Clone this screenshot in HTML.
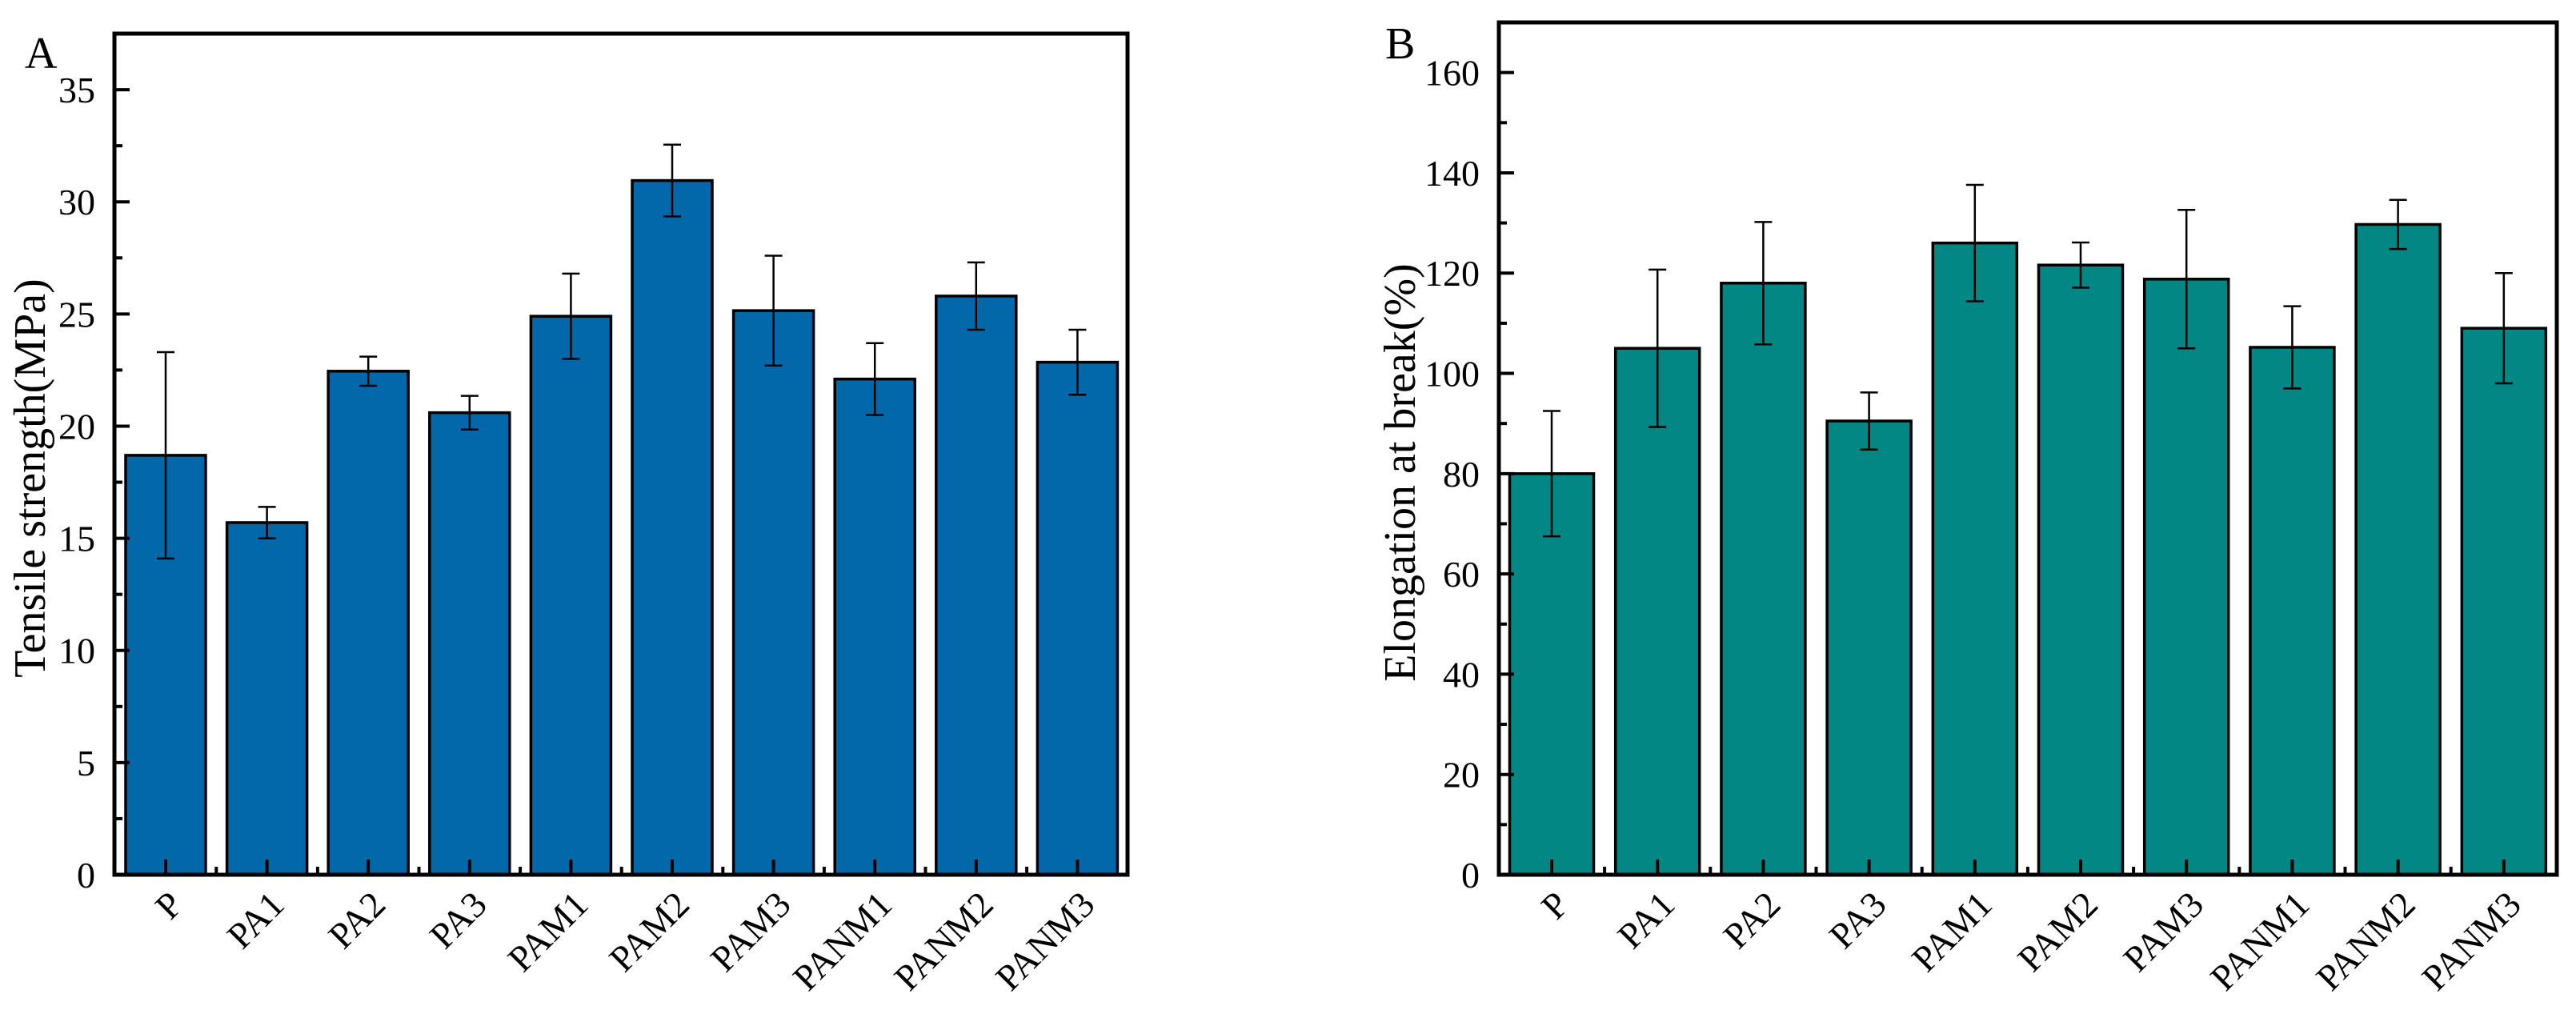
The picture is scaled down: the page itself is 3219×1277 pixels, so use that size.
<!DOCTYPE html>
<html><head><meta charset="utf-8"><style>
html,body{margin:0;padding:0;background:#fff;}
svg{display:block;}
text{font-family:"Liberation Serif",serif;fill:#000;}
</style></head>
<body>
<svg id="fig" width="3219" height="1277" viewBox="0 0 3219 1277" xmlns="http://www.w3.org/2000/svg"></svg>
<script>
const categories = ["P","PA1","PA2","PA3","PAM1","PAM2","PAM3","PANM1","PANM2","PANM3"];
const tensileValues = [18.7,15.7,22.45,20.6,24.9,30.95,25.15,22.1,25.8,22.85];
const tensileErrors = [4.6,0.7,0.65,0.75,1.9,1.6,2.45,1.6,1.5,1.45];
const tensileTicks = [0,5,10,15,20,25,30,35];
const elongValues = [80,105,118,90.5,126,121.6,118.8,105.2,129.7,109];
const elongErrors = [12.5,15.7,12.2,5.7,11.6,4.5,13.8,8.2,4.9,11];
const elongTicks = [0,20,40,60,80,100,120,140,160];

const NS="http://www.w3.org/2000/svg";
const svg=document.getElementById('fig');
function mk(tag,attrs,parent){const e=document.createElementNS(NS,tag);for(const k in attrs)e.setAttribute(k,attrs[k]);(parent||svg).appendChild(e);return e;}

function drawChart(cfg){
  const g=mk('g',{});
  
  
  const L=cfg.left,R=cfg.right,T=cfg.top,B=cfg.bottom;
  const y=v=>B-(v/cfg.ymax)*(B-T);
  const x=i=>cfg.x0+i*cfg.step;
  cfg.values.forEach((v,i)=>{
    const r=mk('rect',{x:x(i)-cfg.bw/2,y:y(v),width:cfg.bw,height:B-y(v),fill:cfg.color,stroke:'#000','stroke-width':3.5},g);
    
    
  });
  cfg.values.forEach((v,i)=>{
    const e=cfg.errors[i];const cx=x(i);
    const eg=mk('g',{stroke:'#000','stroke-width':2.5},g);
    
    
    mk('line',{x1:cx,x2:cx,y1:y(v+e),y2:y(v-e)},eg);
    mk('line',{x1:cx-11,x2:cx+11,y1:y(v+e),y2:y(v+e)},eg);
    mk('line',{x1:cx-11,x2:cx+11,y1:y(v-e),y2:y(v-e)},eg);
  });
  categories.forEach((c,i)=>{
    mk('line',{x1:x(i),x2:x(i),y1:B,y2:B-19,stroke:'#000','stroke-width':4},g);
    if(i<categories.length-1) mk('line',{x1:x(i)+cfg.step/2,x2:x(i)+cfg.step/2,y1:B,y2:B-10,stroke:'#000','stroke-width':4},g);
    const ax=x(i)+24, ay=B+40;
    const t=mk('text',{x:ax,y:ay,'font-size':46,'text-anchor':'end',transform:`rotate(-45 ${ax} ${ay})`},g);
    t.textContent=c;
    
    
  });
  cfg.ticks.forEach((tv,i)=>{
    mk('line',{x1:L,x2:L+19,y1:y(tv),y2:y(tv),stroke:'#000','stroke-width':4},g);
    const h=tv+(cfg.ticks[1]-cfg.ticks[0])/2;
    if(h<cfg.ymax) mk('line',{x1:L,x2:L+10,y1:y(h),y2:y(h),stroke:'#000','stroke-width':4},g);
    const t=mk('text',{x:L-24,y:y(tv)+16,'font-size':46,'text-anchor':'end'},g);
    t.textContent=tv;
    
    
  });
  const f=mk('rect',{x:L,y:T,width:R-L,height:B-T,fill:'none',stroke:'#000','stroke-width':5},g);
  
  
  const cy=(T+B)/2+30;
  const yt=mk('text',{x:cfg.titleX,y:cy,'font-size':56,'text-anchor':'middle',transform:`rotate(-90 ${cfg.titleX} ${cy})`},g);
  yt.textContent=cfg.title;
  
  
  const pl=mk('text',{x:cfg.labelX,y:cfg.labelY,'font-size':56},g);
  pl.textContent=cfg.label;
  
  
}

drawChart({name:'chart-tensile-strength',left:143,right:1409,top:42,bottom:1093,ymax:37.5,x0:207,step:126.6,bw:100,
  color:'#0368aa',values:tensileValues,errors:tensileErrors,ticks:tensileTicks,title:'Tensile strength(MPa)',titleX:56,label:'A',labelX:31,labelY:85});
drawChart({name:'chart-elongation',left:1873,right:3195,top:28,bottom:1093,ymax:170,x0:1939,step:132.2,bw:105,
  color:'#028784',values:elongValues,errors:elongErrors,ticks:elongTicks,title:'Elongation at break(%)',titleX:1768,label:'B',labelX:1731,labelY:73});
</script>
</body></html>
